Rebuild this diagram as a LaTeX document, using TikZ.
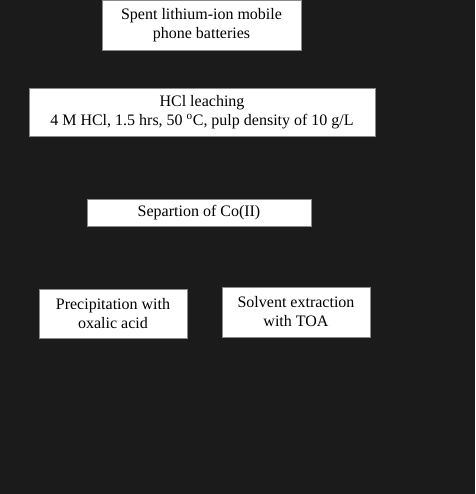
\documentclass[tikz,border=0pt]{standalone}
\usepackage{fontspec}
\setmainfont{Liberation Serif}
\usepackage{tikz}
\usetikzlibrary{positioning}
\definecolor{bgdark}{HTML}{1B1B1B}
\definecolor{edgegray}{HTML}{8A8A8A}

\tikzset{
  stage/.style={draw=edgegray, line width=0.8pt, fill=white, text=black,
    inner sep=0pt, align=center,
    font=\fontsize{16}{19}\selectfont}
}

\begin{document}
\begin{tikzpicture}[x=1pt, y=-1pt]
    % background, same size as the reference
    \fill[bgdark] (0, 0) rectangle (475, 494);
    \useasboundingbox (0, 0) rectangle (475, 494);

    % batteries
    \node[stage, minimum width=199pt, minimum height=50pt] (batt) at (201.5, 25)
        {Spent lithium-ion mobile\\phone batteries};

    % leaching
    \node[stage, minimum width=346pt, minimum height=48pt] (leach) at (202, 112)
        {HCl leaching\\4 M HCl, 1.5 hrs, 50 \textsuperscript{o}C, pulp density of 10 g/L};

    % Co(II)
    \node[stage, minimum width=224pt, minimum height=27pt] (sep) at (199, 212.5)
        {Separtion of Co(II)};

    % the two routes
    \node[stage, minimum width=148pt, minimum height=49pt] (precip) at (113, 313.5)
        {Precipitation with\\oxalic acid};
    \node[stage, minimum width=148pt, minimum height=50pt] (solvex) at (296, 312)
        {Solvent extraction\\with TOA};
\end{tikzpicture}
\end{document}
